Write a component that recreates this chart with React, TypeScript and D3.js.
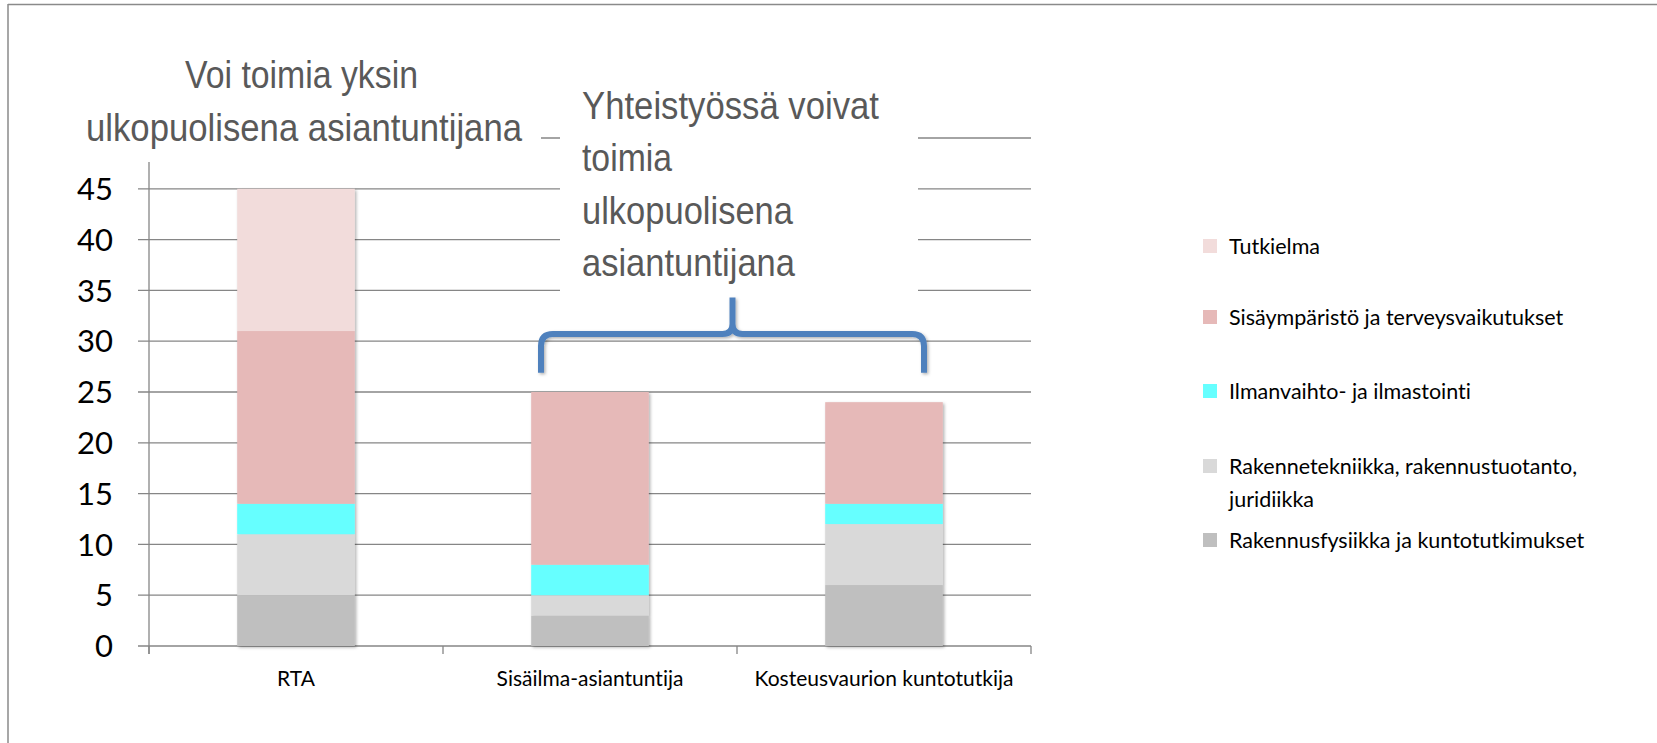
import * as d3 from "d3";

const categories = ["RTA", "Sisäilma-asiantuntija", "Kosteusvaurion kuntotutkija"];

const seriesNames = [
  "Rakennusfysiikka ja kuntotutkimukset",
  "Rakennetekniikka, rakennustuotanto, juridiikka",
  "Ilmanvaihto- ja ilmastointi",
  "Sisäympäristö ja terveysvaikutukset",
  "Tutkielma",
];
const seriesColors = ["#BFBFBF", "#D9D9D9", "#66FFFF", "#E6B9B8", "#F2DCDB"];

// values per category, in series order
const rakennusfysiikka = [5, 3, 6];
const rakennetekniikka = [6, 2, 6];
const ilmanvaihto = [3, 3, 2];
const sisaymparisto = [17, 17, 10];
const tutkielma = [14, 0, 0];

const yTicks = [0, 5, 10, 15, 20, 25, 30, 35, 40, 45, 50];

const leftTitle = ["Voi toimia yksin", "ulkopuolisena asiantuntijana"];
const leftTitleWidths = [233, 436];
const rightTitle = ["Yhteistyössä voivat", "toimia", "ulkopuolisena", "asiantuntijana"];
const rightTitleWidths = [297, 90, 211, 213];

// legend is listed top to bottom, lines split like the original
const legendRows = [
  { s: 4, lines: ["Tutkielma"] },
  { s: 3, lines: ["Sisäympäristö ja terveysvaikutukset"] },
  { s: 2, lines: ["Ilmanvaihto- ja ilmastointi"] },
  { s: 1, lines: ["Rakennetekniikka, rakennustuotanto,", "juridiikka"] },
  { s: 0, lines: ["Rakennusfysiikka ja kuntotutkimukset"] },
];
const legendY = [246, 317, 391, 466, 540];

const W = 1657;
const H = 743;
const plot = { left: 149, right: 1031, top: 138, bottom: 646 };
const axisColor = "#868686";
const titleFont = "'Liberation Sans', Arial, sans-serif";
const bodyFont = "Lato, 'Open Sans', sans-serif";

export default function App() {
  const table = categories.map((c, i) => ({
    cat: c,
    0: rakennusfysiikka[i],
    1: rakennetekniikka[i],
    2: ilmanvaihto[i],
    3: sisaymparisto[i],
    4: tutkielma[i],
  }));
  const stacked = d3.stack<any>().keys([0, 1, 2, 3, 4] as any)(table);

  const x = d3.scaleBand().domain(categories).range([plot.left, plot.right]).padding(0);
  const y = d3.scaleLinear().domain([0, 50]).range([plot.bottom, plot.top]);
  const barW = x.bandwidth() * 0.4;

  // curly brace over the two last bars
  const bx0 = x(categories[1])! + x.bandwidth() / 2 - 49;
  const bx1 = x(categories[2])! + x.bandwidth() / 2 + 40;
  const bmid = (bx0 + bx1) / 2;
  const by = y(30.7);
  const byEnd = y(26.9);
  const byTop = y(34.3);
  const r = 12;
  const brace = `M${bx0},${byEnd} L${bx0},${by + r} Q${bx0},${by} ${bx0 + r},${by} L${bmid - 10},${by} Q${bmid},${by} ${bmid},${by - 10} L${bmid},${byTop}
    M${bmid},${by - 10} Q${bmid},${by} ${bmid + 10},${by} L${bx1 - r},${by} Q${bx1},${by} ${bx1},${by + r} L${bx1},${byEnd}`;

  return (
    <div style={{ position: "absolute", left: 0, top: 0 }}>
      <svg width={W} height={H} style={{ display: "block", background: "#fff", fontVariantLigatures: "none" }}>
        <defs>
          <filter id="shadow" x="-10%" y="-10%" width="130%" height="130%">
            <feDropShadow dx="1.5" dy="1.5" stdDeviation="1.5" floodColor="#000" floodOpacity="0.3" />
          </filter>
        </defs>

        {/* outer frame */}
        <line x1={8} y1={4.5} x2={W} y2={4.5} stroke="#8a8a8a" strokeWidth={1.5} />
        <line x1={8} y1={4} x2={8} y2={H} stroke="#8a8a8a" strokeWidth={1.5} />

        {/* gridlines + y ticks (the 50 label sits under the title box) */}
        {yTicks.map((t) => (
          <g key={t}>
            <line x1={plot.left - 11} x2={plot.right} y1={y(t)} y2={y(t)} stroke={axisColor} strokeWidth={1.3} />
            {t < 50 && (
              <text
                x={113}
                y={y(t)}
                dy="0.36em"
                textAnchor="end"
                fontFamily={bodyFont}
                fontSize={31}
                fill="#000"
              >
                {t}
              </text>
            )}
          </g>
        ))}
        <line x1={plot.left} x2={plot.left} y1={plot.top} y2={plot.bottom + 8} stroke={axisColor} strokeWidth={1.3} />
        {[...categories.map((c) => x(c)!), plot.right].map((v, i) => (
          <line key={i} x1={v} x2={v} y1={plot.bottom} y2={plot.bottom + 8} stroke={axisColor} strokeWidth={1.3} />
        ))}

        {/* stacked bars */}
        <g filter="url(#shadow)">
          {stacked.map((layer, si) =>
            layer.map((d, i) =>
              d[1] - d[0] > 0 ? (
                <rect
                  key={si + "-" + i}
                  x={x(categories[i])! + (x.bandwidth() - barW) / 2}
                  y={y(d[1])}
                  width={barW}
                  height={y(d[0]) - y(d[1])}
                  fill={seriesColors[si]}
                />
              ) : null
            )
          )}
        </g>

        {/* category labels */}
        {categories.map((c) => (
          <text
            key={c}
            x={x(c)! + x.bandwidth() / 2}
            y={679}
            dy="0.35em"
            textAnchor="middle"
            fontFamily={bodyFont}
            fontSize={21}
            fill="#000"
          >
            {c}
          </text>
        ))}

        {/* title boxes */}
        <rect x={40} y={45} width={501} height={117} fill="#fff" />
        <text fontFamily={titleFont} fontSize={39} fill="#595959">
          {leftTitle.map((l, i) => (
            <tspan key={i} x={i === 0 ? 185 : 86} y={88 + i * 53} textLength={leftTitleWidths[i]} lengthAdjust="spacingAndGlyphs">
              {l}
            </tspan>
          ))}
        </text>

        <rect x={560} y={78} width={358} height={234} fill="#fff" />
        <text fontFamily={titleFont} fontSize={39} fill="#595959">
          {rightTitle.map((l, i) => (
            <tspan key={i} x={582} y={119 + i * 52.3} textLength={rightTitleWidths[i]} lengthAdjust="spacingAndGlyphs">
              {l}
            </tspan>
          ))}
        </text>

        {/* brace */}
        <path d={brace} fill="none" stroke="#4F81BD" strokeWidth={6} filter="url(#shadow)" />

        {/* legend */}
        {legendRows.map((row, i) => (
          <g key={i}>
            <rect x={1203} y={legendY[i] - 7} width={14} height={14} fill={seriesColors[row.s]} />
            <text fontFamily={bodyFont} fontSize={21.5} fill="#000">
              {row.lines.map((l, j) => (
                <tspan key={j} x={1229} y={legendY[i] + j * 33} dy="0.35em">
                  {l}
                </tspan>
              ))}
            </text>
          </g>
        ))}
      </svg>
    </div>
  );
}
